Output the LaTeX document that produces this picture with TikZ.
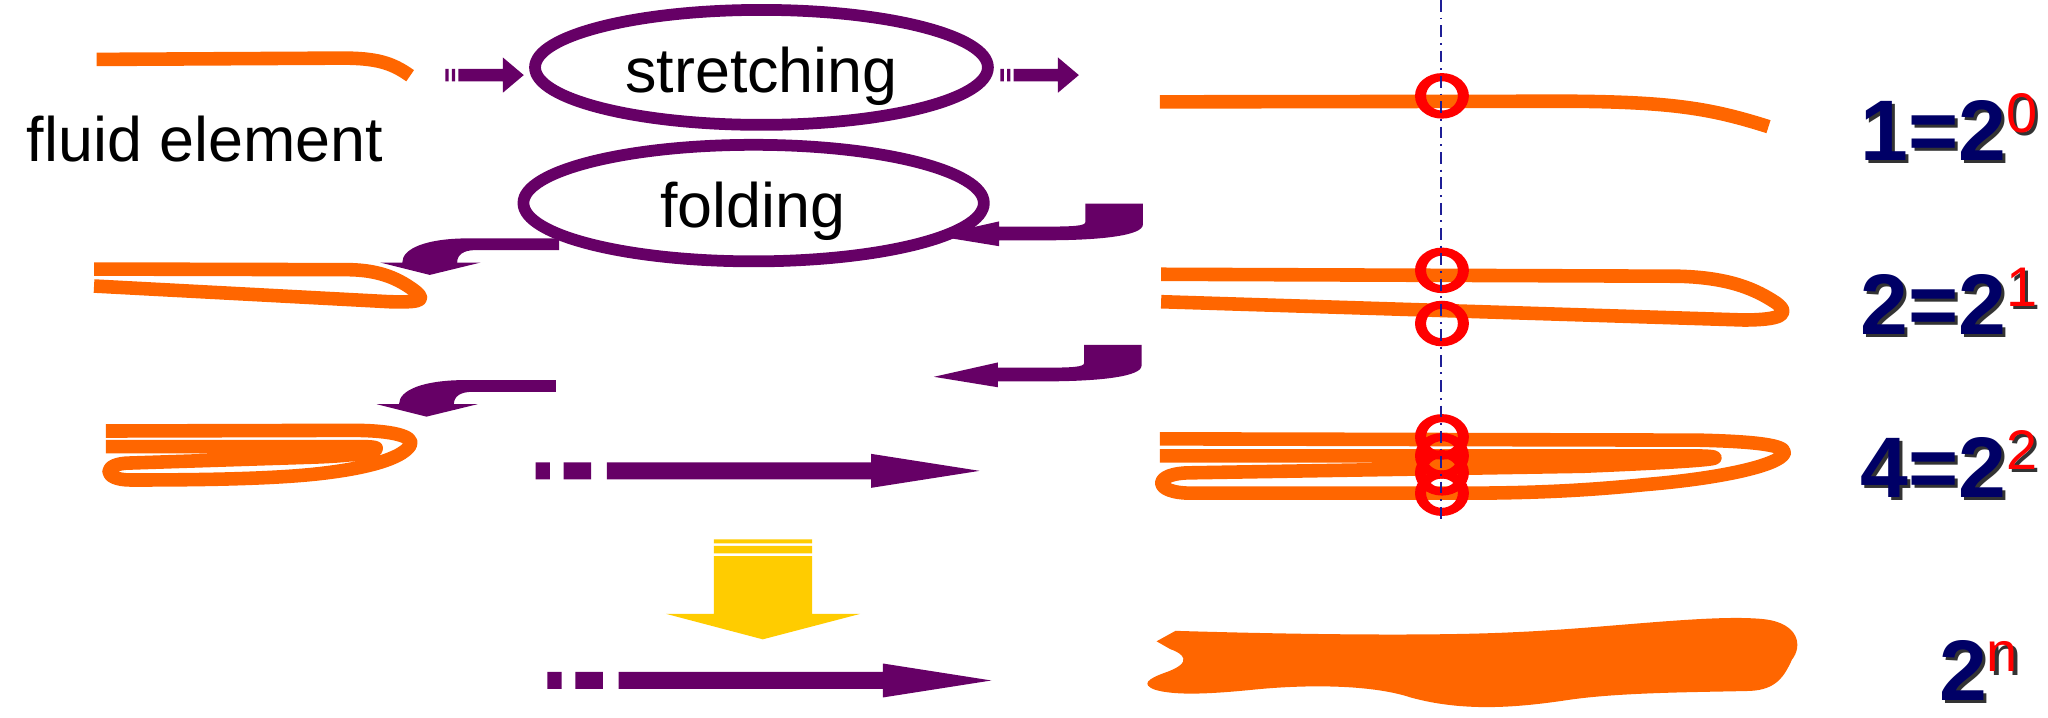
\documentclass[tikz,border=0pt]{standalone}
\usepackage{fontspec}
\setmainfont{Liberation Sans}
\usetikzlibrary{shapes.geometric}
\definecolor{flow}{HTML}{FF6600}
\definecolor{plum}{HTML}{660066}
\definecolor{navyT}{HTML}{000066}
\definecolor{gold}{HTML}{FFCC00}
\definecolor{axisblue}{RGB}{30,30,150}
\definecolor{ring}{HTML}{FF0000}
% bold number with a lighter raised exponent in its own colour
\newcommand\powtext[3]{{\bfseries #1}\raisebox{7.7pt}{\fontsize{15.2pt}{16pt}\selectfont\color{#3}#2}}
% red ring, thicker at its sides than at top and bottom
\newcommand\ringat[1]{\fill[ring, even odd rule] (#1) ellipse [x radius=0.258cm, y radius=0.218cm]
  (#1) ellipse [x radius=0.152cm, y radius=0.14cm];}
\tikzset{
  strand/.style={draw=flow, line width=3.7pt, line join=round},
  phase/.style={ellipse, draw=plum, line width=3.2pt, fill=white, inner sep=0pt},
  word/.style={font=\fontsize{17.1pt}{19pt}\selectfont, inner sep=0pt, anchor=base},
  powlabel/.style={font=\fontsize{23.4pt}{25pt}\selectfont, text=navyT, inner sep=0pt, anchor=base west},
  powshadow/.style={powlabel, text=black!80},
  axisline/.style={draw=axisblue, line width=0.6pt, dash pattern=on 3.2pt off 1.6pt on 0.5pt off 1.6pt},
}
\begin{document}
\begin{tikzpicture}[x=0.0125cm,y=-0.0125cm]
\useasboundingbox (0,0) rectangle (1568,549);
\fill[white] (0,0) rectangle (1568,549);

% ---------- left column: the fluid element ----------
\draw[strand] (74,45.5) -- (262,44.5) .. controls (288,44.5) and (300,48) .. (314,58);
\node[word] (fluid) at (157,124) {fluid element};

% once folded
\draw[strand] (72,206) -- (268,206.5) .. controls (292,207) and (306,214) .. (318,223)
  .. controls (328,231) and (318,231.5) .. (298,231) -- (72,219);

% twice folded
\draw[strand] (81,330) -- (270,329.5) .. controls (300,329.5) and (318,334) .. (314,341)
  .. controls (309,349) and (290,357) .. (250,362) .. controls (215,366.5) and (160,367.5) .. (100,367.5)
  .. controls (78,367.5) and (78,354.5) .. (100,354.5) -- (240,350)
  .. controls (270,349) and (290,346) .. (288,343) .. controls (286,341.5) and (270,342) .. (250,342) -- (81,342);

% ---------- stretching arrows ----------
\fill[plum] (341,52.7) rectangle (343.5,62.3) (346,52.7) rectangle (348.5,62.3)
  (351,52.7) -- (385,52.7) -- (385,44) -- (401,57.5) -- (385,71) -- (385,62.3) -- (351,62.3) -- cycle;
\begin{scope}[shift={(425,0)}]
\fill[plum] (341,52.7) rectangle (343.5,62.3) (346,52.7) rectangle (348.5,62.3)
  (351,52.7) -- (385,52.7) -- (385,44) -- (401,57.5) -- (385,71) -- (385,62.3) -- (351,62.3) -- cycle;
\end{scope}

% ---------- folding hooks ----------
\fill[plum] (428,182.5) -- (359,182.5) .. controls (327,182.5) and (308,190) .. (308,201) -- (291,201)
  -- (329,210.5) -- (368,201) -- (350,201) .. controls (350,195) and (355,191.5) .. (364,191.5) -- (428,191.5) -- cycle;
\begin{scope}[shift={(-2.5,108.5)}]
\fill[plum] (428,182.5) -- (359,182.5) .. controls (327,182.5) and (308,190) .. (308,201) -- (291,201)
  -- (329,210.5) -- (368,201) -- (350,201) .. controls (350,195) and (355,191.5) .. (364,191.5) -- (428,191.5) -- cycle;
\end{scope}
\fill[plum] (831,156) -- (875,156) -- (875,172) .. controls (875,180) and (845,184) .. (800,184)
  -- (765,184) -- (765,188.5) -- (716,180.5) -- (765,169.5) -- (765,173.5) -- (800,173.5)
  .. controls (822,173.5) and (831,173) .. (831,170) -- cycle;
\begin{scope}[shift={(-1,108)}]
\fill[plum] (831,156) -- (875,156) -- (875,172) .. controls (875,180) and (845,184) .. (800,184)
  -- (765,184) -- (765,188.5) -- (716,180.5) -- (765,169.5) -- (765,173.5) -- (800,173.5)
  .. controls (822,173.5) and (831,173) .. (831,170) -- cycle;
\end{scope}

% ---------- the two operations ----------
\node[phase, minimum width=4.333cm, minimum height=1.1cm] (stretch) at (583,51.6) {};
\node[word] (stretchtxt) at (583,71) {stretching};
\node[phase, minimum width=4.405cm, minimum height=1.115cm] (fold) at (577,155.5) {};
\node[word] (foldtxt) at (576.5,174) {folding};

% ---------- repetition arrows ----------
\begin{scope}[shift={(-9,-160.5)}]
\fill[plum] (419,514.5) rectangle (430,527.5) (440.5,514.5) rectangle (461.6,527.5)
  (473.6,514.5) -- (676,514.5) -- (676,508) -- (759,521) -- (676,534) -- (676,527.5) -- (473.6,527.5) -- cycle;
\end{scope}
\fill[plum] (419,514.5) rectangle (430,527.5) (440.5,514.5) rectangle (461.6,527.5)
  (473.6,514.5) -- (676,514.5) -- (676,508) -- (759,521) -- (676,534) -- (676,527.5) -- (473.6,527.5) -- cycle;

% limit arrow
\fill[gold] (546.6,413) rectangle (621.8,416) (546.6,418) rectangle (621.8,423.7)
  (546.6,425.7) -- (621.8,425.7) -- (621.8,470) -- (658.6,470) -- (584,489.5) -- (510,470) -- (546.6,470) -- cycle;

% ---------- right column: the stretched element ----------
\draw[strand] (888,78) -- (1200,77.5) .. controls (1280,78) and (1310,83) .. (1354,97);

\draw[strand] (889,210) -- (1285,211.5) .. controls (1325,212.5) and (1345,222) .. (1360,232)
  .. controls (1372,241) and (1362,245) .. (1335,245) -- (889,231);

\draw[strand] (888,336) -- (1300,337) .. controls (1345,338) and (1368,341) .. (1366,347)
  .. controls (1362,356) and (1320,366) .. (1260,371) .. controls (1220,375) and (1180,377.6) .. (1120,377.6)
  -- (912,377.6) .. controls (882,377.6) and (882,362) .. (912,362) -- (1212,357)
  .. controls (1260,355) and (1312,352.5) .. (1313,350.5) .. controls (1313,349) and (1300,349) .. (1280,349) -- (888,349);

% well mixed element
\fill[flow] (900,483) .. controls (1000,486) and (1100,487) .. (1160,484)
  .. controls (1230,481) and (1310,470) .. (1350,474) .. controls (1378,477) and (1380,495) .. (1372,505)
  .. controls (1366,518) and (1360,528) .. (1340,529) .. controls (1300,530) and (1240,530) .. (1200,536)
  .. controls (1160,542) and (1120,545) .. (1080,534) .. controls (1050,524) and (1000,524) .. (960,528)
  .. controls (930,531) and (900,533) .. (884,528) .. controls (874,524) and (878,520) .. (892,515)
  .. controls (915,507) and (905,500) .. (896,497) -- (885.5,491) -- cycle;

% intersections with the section line
\ringat{1104,73.4}
\ringat{1104,207}
\ringat{1104,247.7}
\ringat{1104,334.5}
\ringat{1104,349}
\ringat{1104,362}
\ringat{1104,377.6}
\draw[axisline] (1103,0) coordinate (axtop) -- (1103,400) coordinate (axbot);

% ---------- counts ----------
\node[powshadow] (p0s) at (1426.5,125.5) {\powtext{1=2}{0}{black!80}};
\node[powlabel] (p0) at (1424,123) {\powtext{1=2}{0}{ring}};
\node[powshadow] (p1s) at (1426.5,258.5) {\powtext{2=2}{1}{black!80}};
\node[powlabel] (p1) at (1424,256) {\powtext{2=2}{1}{ring}};
\node[powshadow] (p2s) at (1426.5,383.5) {\powtext{4=2}{2}{black!80}};
\node[powlabel] (p2) at (1424,381) {\powtext{4=2}{2}{ring}};
\node[powshadow] (pns) at (1486.5,538.5) {\powtext{2}{n}{black!80}};
\node[powlabel] (pn) at (1484,536) {\powtext{2}{n}{ring}};
\end{tikzpicture}
\end{document}
